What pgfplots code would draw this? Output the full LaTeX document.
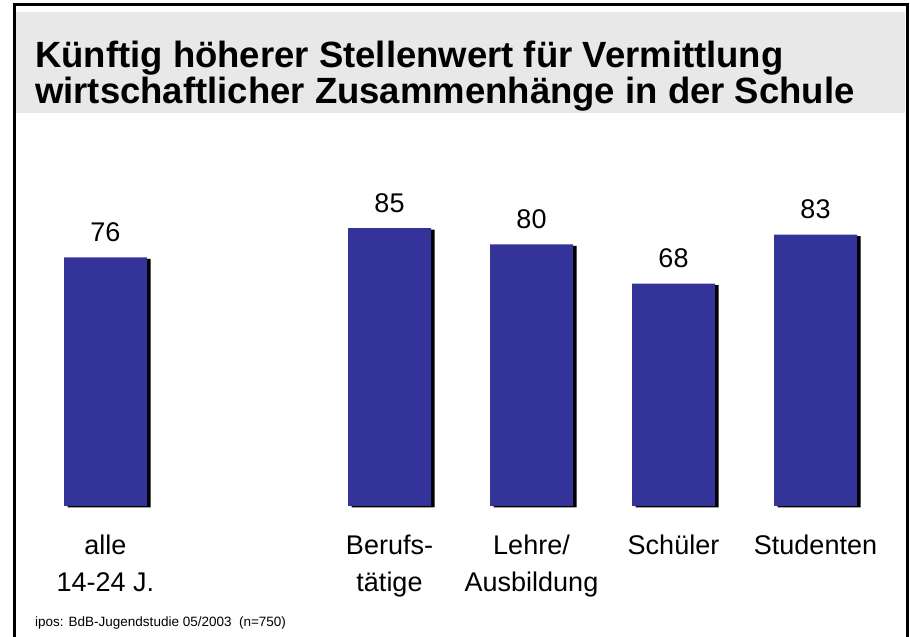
\documentclass[border=0pt]{standalone}
\usepackage{pgfplots}
\pgfplotsset{compat=1.18}
\usepackage{fontspec}
\setmainfont{Liberation Sans}
\definecolor{barblue}{HTML}{333399}
\definecolor{band}{HTML}{E8E8E8}
\begin{document}
\begin{tikzpicture}[x=1pt,y=1pt]
\useasboundingbox (0,0) rectangle (910,637);
% title band and frame
\fill[band] (16,524) rectangle (905,625);
\draw[line width=3pt] (14,-5) -- (14,632) -- (907,632) -- (907,-5);
\node[anchor=base west, inner sep=0pt, font=\fontsize{36.5}{40}\selectfont\bfseries] at (35,569) {Künftig höherer Stellenwert für Vermittlung};
\node[anchor=base west, inner sep=0pt, font=\fontsize{36.5}{40}\selectfont\bfseries] at (35,533) {wirtschaftlicher Zusammenhänge in der Schule};
\node[anchor=base west, inner sep=0pt, font=\fontsize{13.5}{16}\selectfont] at (35,10) {ipos: BdB-Jugendstudie 05/2003\ \ (n=750)};
\begin{axis}[
	at={(34.5pt,131pt)}, anchor=south west,
	scale only axis, width=852pt, height=327pt,
	xmin=-0.5, xmax=5.5, ymin=0, ymax=100,
	axis line style={draw=none},
	major tick length=0pt,
	ybar, bar width=83pt,
	xtick={0,2,3,4,5},
	xticklabels={alle\\14-24 J., Berufs-\\tätige, Lehre/\\Ausbildung, Schüler, Studenten},
	x tick label style={align=center, anchor=north, inner sep=0pt, yshift=-29pt, font=\fontsize{27}{37}\selectfont},
	ytick=\empty,
	/pgf/number format/assume math mode=true,
	nodes near coords,
	every node near coord/.append style={anchor=base, yshift=16pt, inner sep=0pt, font=\fontsize{27}{32}\selectfont, black},
	clip=false,
]
\addplot[fill=barblue, draw=none,
	preaction={fill=black, transform canvas={xshift=3.5pt, yshift=-1.5pt}}]
	coordinates {(0,76) (2,85) (3,80) (4,68) (5,83)};
\end{axis}
\end{tikzpicture}
\end{document}
